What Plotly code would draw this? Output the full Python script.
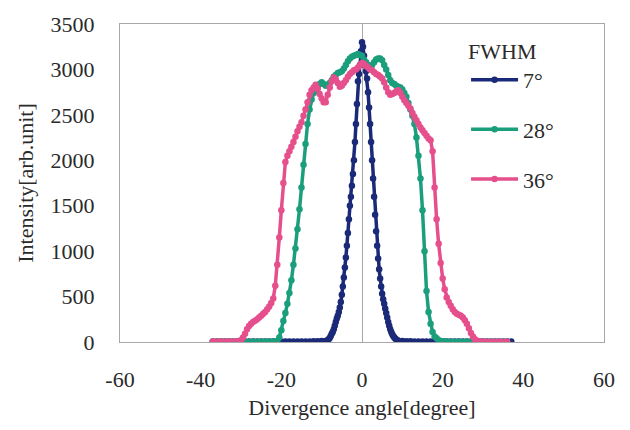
import plotly.graph_objects as go

# ---------------- data ----------------
series_names = ["7°", "28°", "36°"]
series_colors = ["#1b2a78", "#1a9e7c", "#e54f8c"]

angle_7 = [-37, -36, -35, -34, -33, -32, -31, -30, -29, -28, -27, -26, -25, -24, -23, -22, -21, -20,
           -19, -18, -17, -16, -15, -14, -13, -12, -11, -10,
           -9, -8.75, -8.5, -8.25, -8, -7.75, -7.5, -7.25, -7, -6.75, -6.5, -6.25, -6, -5.75, -5.5,
           -5.25, -5, -4.75, -4.5, -4.25, -4, -3.75, -3.5, -3.25, -3, -2.75, -2.5, -2.25, -2, -1.75,
           -1.5, -1.25, -1, -0.75, -0.5, -0.25, 0, 0.25, 0.5, 0.75, 1, 1.25, 1.5, 1.75, 2, 2.25, 2.5,
           2.75, 3, 3.25, 3.5, 3.75, 4, 4.25, 4.5, 4.75, 5, 5.25, 5.5, 5.75, 6, 6.25, 6.5, 6.75, 7,
           7.25, 7.5, 7.75, 8, 8.25, 8.5, 8.75, 9,
           10, 11, 12, 13, 14, 15, 16, 17, 18, 19, 20, 21, 22, 23, 24, 25, 26, 27, 28, 29, 30, 31,
           32, 33, 34, 35, 36, 37]
intensity_7 = [5, 5, 5, 5, 5, 5, 5, 5, 5, 5, 5, 5, 5, 5, 5, 5, 5, 5,
               5, 5, 5, 5, 5, 5, 6, 7, 8, 10,
               12, 15, 20, 30, 45, 65, 90, 110, 140, 180, 220, 260, 290, 330, 380,
               440, 520, 610, 710, 820, 930, 1060, 1200, 1350, 1500, 1600, 1720, 1850, 2000, 2200,
               2400, 2620, 2870, 2950, 3050, 3200, 3300, 3250, 3150, 3050, 2980, 2900, 2750, 2580, 2400, 2200, 2000,
               1800, 1600, 1400, 1220, 1060, 920, 800, 700, 610, 530, 470, 420, 370, 320, 270, 220, 180, 140,
               110, 85, 65, 50, 38, 28, 20, 15,
               12, 9, 7, 6, 5, 5, 5, 5, 5, 5, 5, 5, 5, 5, 5, 5, 5, 5, 5, 5, 5, 5,
               5, 5, 5, 5, 5, 5]

angle_28 = [-36, -35, -34, -33, -32, -31, -30, -29, -28, -27, -26, -25, -24, -23, -22,
            -21, -20.5, -20, -19.5, -19, -18.5, -18, -17.5, -17, -16.5, -16, -15.5, -15, -14.5, -14,
            -13.5, -13, -12.5, -12, -11.5, -11, -10.5, -10, -9.5, -9, -8.5, -8, -7.5, -7, -6.5, -6,
            -5.5, -5, -4.5, -4, -3.5, -3, -2.5, -2, -1.5, -1, -0.5, 0, 0.5, 1, 1.5, 2, 2.5, 3, 3.5, 4,
            4.5, 5, 5.5, 6, 6.5, 7, 7.5, 8, 8.5, 9, 9.5, 10, 10.5, 11, 11.5, 12, 12.5, 13, 13.5, 14,
            14.5, 15, 15.5, 16, 16.5, 17, 17.5, 18, 18.5, 19, 19.5, 20, 20.5, 21,
            22, 23, 24, 25, 26, 27, 28, 29, 30, 31, 32, 33, 34, 35, 36]
intensity_28 = [4, 4, 4, 4, 4, 4, 4, 4, 4, 4, 4, 4, 5, 5, 6,
                10, 50, 130, 230, 320, 420, 540, 680, 850, 1030, 1240, 1460, 1700, 1950, 2180,
                2400, 2560, 2670, 2740, 2760, 2800, 2840, 2860, 2840, 2820, 2830, 2850, 2880, 2920, 2940, 2960,
                2970, 2980, 3010, 3050, 3090, 3120, 3140, 3150, 3160, 3170, 3160, 3150, 3110, 3080, 3050, 3030, 3050, 3080, 3110, 3120,
                3120, 3100, 3050, 3000, 2940, 2880, 2850, 2840, 2820, 2810, 2800, 2780, 2740, 2700, 2630, 2560, 2490, 2400, 2250, 2050,
                1800, 1450, 1000, 560, 330, 200, 110, 60, 40, 20, 12, 8, 5, 5,
                4, 4, 4, 4, 4, 4, 4, 4, 4, 4, 4, 4, 4, 4, 4]

angle_36 = [-37, -36, -35, -34, -33, -32,
            -31, -30.5, -30, -29.5, -29, -28.5, -28, -27.5, -27, -26.5, -26, -25.5, -25, -24.5, -24,
            -23.5, -23, -22.5, -22, -21.5, -21, -20.5, -20, -19.5, -19, -18.5, -18, -17.5, -17, -16.5,
            -16, -15.5, -15, -14.5, -14, -13.5, -13, -12.5, -12, -11.5, -11, -10.5, -10, -9.5, -9,
            -8.5, -8, -7.5, -7, -6.5, -6, -5.5, -5, -4.5, -4, -3.5, -3, -2.5, -2, -1.5, -1, -0.5, 0,
            0.5, 1, 1.5, 2, 2.5, 3, 3.5, 4, 4.5, 5, 5.5, 6, 6.5, 7, 7.5, 8, 8.5, 9, 9.5, 10, 10.5, 11,
            11.5, 12, 12.5, 13, 13.5, 14, 14.5, 15, 15.5, 16, 16.5, 17, 17.5, 18, 18.5, 19, 19.5, 20,
            20.5, 21, 21.5, 22, 22.5, 23, 23.5, 24, 24.5, 25, 25.5, 26, 26.5, 27, 27.5, 28, 28.5, 29,
            29.5, 30,
            31, 32, 33, 34, 35, 36]
intensity_36 = [5, 5, 5, 5, 5, 5,
                5, 10, 20, 50, 90, 140, 175, 200, 220, 235, 250, 270, 290, 310, 330,
                360, 390, 430, 480, 620, 850, 1150, 1450, 1750, 1980, 2050, 2100, 2150, 2200, 2260,
                2320, 2370, 2420, 2490, 2560, 2640, 2720, 2770, 2800, 2830, 2790, 2730, 2680, 2640, 2640,
                2720, 2800, 2870, 2910, 2890, 2850, 2810, 2820, 2850, 2880, 2920, 2950, 2970, 2990, 3000, 3020, 3050, 3070,
                3060, 3040, 3020, 3000, 2990, 2970, 2950, 2940, 2920, 2900, 2860, 2800, 2750, 2720, 2730, 2740, 2760, 2770, 2740, 2700, 2660, 2630,
                2600, 2570, 2520, 2480, 2440, 2400, 2360, 2330, 2300, 2270, 2240, 2220, 2100, 1700, 1350, 1080, 870, 700,
                580, 490, 440, 400, 360, 330, 310, 300, 290, 270, 240, 200, 150, 100, 60, 30, 15, 8,
                5, 3,
                3, 3, 3, 3, 3, 3]

x_ticks = [-60, -40, -20, 0, 20, 40, 60]
y_ticks = [0, 500, 1000, 1500, 2000, 2500, 3000, 3500]

# ---------------- figure ----------------
FONT = "Liberation Serif, Times New Roman, serif"
TXT = "#2a2a2a"

fig = go.Figure()
for name, color, xs, ys in zip(series_names, series_colors,
                               [angle_7, angle_28, angle_36],
                               [intensity_7, intensity_28, intensity_36]):
    fig.add_trace(go.Scatter(
        x=xs, y=ys, name=name, mode="lines+markers", legendgroup=name,
        line=dict(color=color, width=3.5),
        marker=dict(color=color, size=6.5, symbol="circle"),
    ))

fig.update_layout(
    width=630, height=430,
    margin=dict(l=120, r=26, t=15, b=88),
    paper_bgcolor="white", plot_bgcolor="white",
    font=dict(family=FONT, size=22, color=TXT),
    showlegend=True,
    legend=dict(
        title=dict(text="FWHM", font=dict(family=FONT, size=22, color=TXT)),
        x=0.715, y=0.98, xanchor="left", yanchor="top",
        bgcolor="rgba(0,0,0,0)", borderwidth=0,
        font=dict(family=FONT, size=22, color=TXT),
        itemwidth=47, tracegroupgap=18,
    ),
)
fig.update_xaxes(
    range=[-60, 60], tickvals=x_ticks, ticktext=[str(v) for v in x_ticks],
    showgrid=False, showline=True, linecolor="#a8a8a8", linewidth=1, mirror=True,
    zeroline=True, zerolinecolor="#a8a8a8", zerolinewidth=1,
    ticks="", ticklabelstandoff=18,
    title=dict(text="Divergence angle[degree]", font=dict(family=FONT, size=22, color=TXT), standoff=8),
    tickfont=dict(family=FONT, size=22, color=TXT),
)
fig.update_yaxes(
    range=[0, 3500], tickvals=y_ticks, ticktext=[str(v) for v in y_ticks],
    showgrid=False, showline=True, linecolor="#a8a8a8", linewidth=1, mirror=True,
    zeroline=False, ticks="", ticklabelstandoff=20,
    title=dict(text="Intensity[arb.unit]", font=dict(family=FONT, size=22, color=TXT), standoff=10),
    tickfont=dict(family=FONT, size=22, color=TXT),
)

fig.write_html("out.html", config={"displayModeBar": False},
               post_script="document.body.style.margin='0';document.body.style.padding='0';")
